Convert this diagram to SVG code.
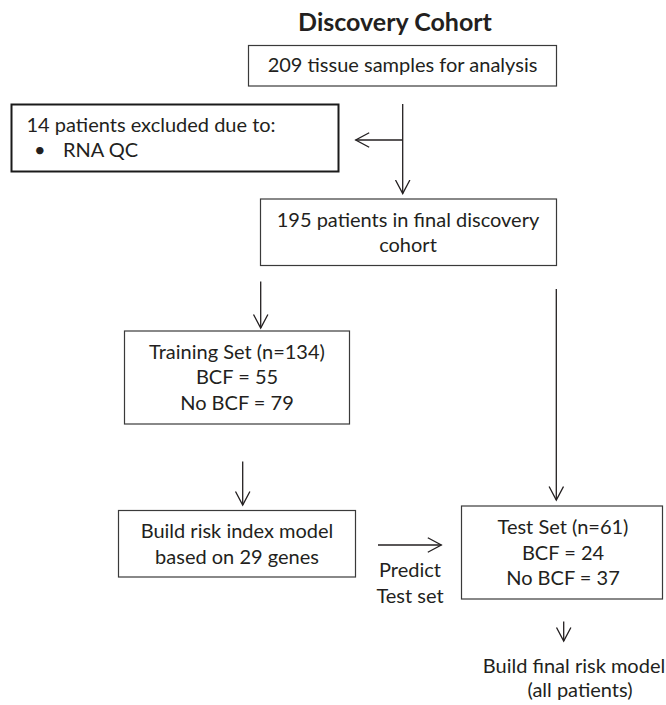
<svg xmlns="http://www.w3.org/2000/svg" width="666" height="705" viewBox="0 0 666 705">
<style>
  .box { fill: #fff; stroke: #3a3a3a; stroke-width: 1.2; }
  .boxb { fill: #fff; stroke: #1a1a1a; stroke-width: 2; }
  .t { font-family: Lato, "Liberation Sans", sans-serif; font-size: 20px; fill: #231f20; }
  .c { text-anchor: middle; }
  .title { font-family: Lato, "Liberation Sans", sans-serif; font-size: 25px; font-weight: bold; fill: #231f20; text-anchor: middle; }
  .ln { fill: none; stroke: #231f20; stroke-width: 1.3; }
</style>
<defs>
  <marker id="ah" markerUnits="userSpaceOnUse" markerWidth="20" markerHeight="20" refX="14" refY="8" orient="auto">
    <polyline points="0.5,0.8 14,8 0.5,15.2" fill="none" stroke="#231f20" stroke-width="1.3"/>
  </marker>
</defs>
<rect width="666" height="705" fill="#fff"/>
<text class="title" x="395" y="30.5">Discovery Cohort</text>

<g id="n_samples">
  <rect class="box" x="248.5" y="45.5" width="308" height="40.5"/>
  <text class="t c" x="402.5" y="72">209 tissue samples for analysis</text>
</g>
<g id="n_excluded">
  <rect class="boxb" x="11.5" y="104.5" width="327" height="67"/>
  <text class="t" x="26.5" y="131.5">14 patients excluded due to:</text>
  <text class="t" x="34" y="157">•</text>
  <text class="t" x="63" y="157">RNA QC</text>
</g>
<g id="n_final">
  <rect class="box" x="260.5" y="199" width="296" height="66.5"/>
  <text class="t c" x="408" y="226.5">195 patients in final discovery</text>
  <text class="t c" x="408" y="251.5">cohort</text>
</g>
<g id="n_training">
  <rect class="box" x="124.5" y="331" width="225" height="93"/>
  <text class="t c" x="237" y="359">Training Set (n=134)</text>
  <text class="t c" x="237" y="384">BCF = 55</text>
  <text class="t c" x="237" y="409.5">No BCF = 79</text>
</g>
<g id="n_build">
  <rect class="box" x="118.5" y="510.5" width="237" height="66.5"/>
  <text class="t c" x="237" y="538">Build risk index model</text>
  <text class="t c" x="237" y="563.5">based on 29 genes</text>
</g>
<g id="n_test">
  <rect class="box" x="461.5" y="506" width="201" height="93"/>
  <text class="t c" x="563" y="534">Test Set (n=61)</text>
  <text class="t c" x="563" y="559.5">BCF = 24</text>
  <text class="t c" x="563" y="585">No BCF = 37</text>
</g>
<g id="n_finalmodel">
  <text class="t c" x="574" y="673">Build final risk model</text>
  <text class="t c" x="580" y="697">(all patients)</text>
</g>

<g id="connectors">
  <line class="ln" x1="402.7" y1="104" x2="402.7" y2="193.5" marker-end="url(#ah)"/>
  <line class="ln" x1="402.7" y1="140" x2="355.7" y2="140" marker-end="url(#ah)"/>
  <line class="ln" x1="260.7" y1="281.5" x2="260.7" y2="328" marker-end="url(#ah)"/>
  <line class="ln" x1="556.3" y1="289" x2="556.3" y2="500" marker-end="url(#ah)"/>
  <line class="ln" x1="242.7" y1="461.5" x2="242.7" y2="505" marker-end="url(#ah)"/>
  <line class="ln" x1="378" y1="545" x2="441.3" y2="545" marker-end="url(#ah)"/>
  <text class="t c" x="410" y="577">Predict</text>
  <text class="t c" x="410" y="602.5">Test set</text>
  <line class="ln" x1="563.7" y1="621.5" x2="563.7" y2="641" marker-end="url(#ah)"/>
</g>
</svg>
